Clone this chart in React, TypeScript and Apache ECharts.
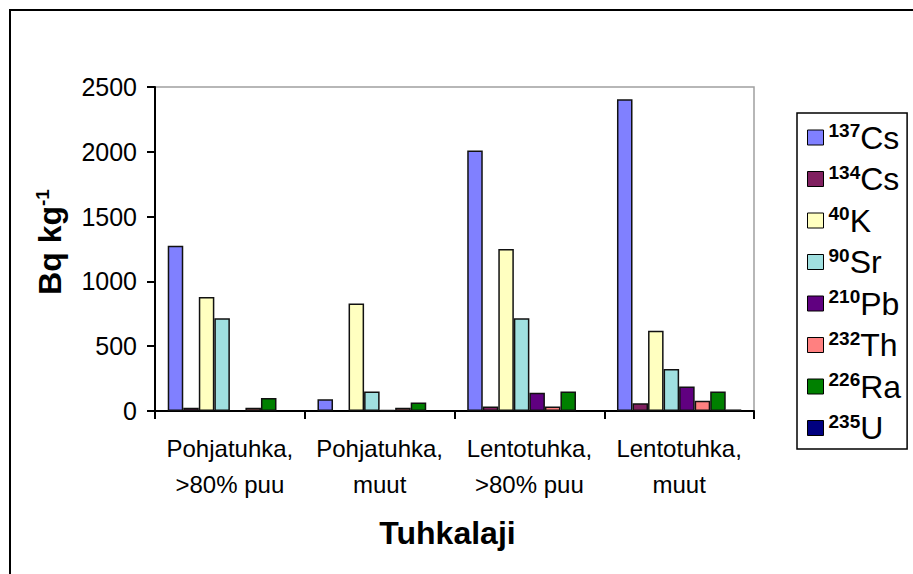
import React, { useEffect, useRef } from "react";
import * as echarts from "echarts";

const categories = ["Pohjatuhka,\n>80% puu", "Pohjatuhka,\nmuut", "Lentotuhka,\n>80% puu", "Lentotuhka,\nmuut"];
const seriesNames = ["137Cs", "134Cs", "40K", "90Sr", "210Pb", "232Th", "226Ra", "235U"];
const cs137 = [1275, 90, 2010, 2405];
const cs134 = [25, null, 35, 60];
const k40 = [880, 830, 1250, 620];
const sr90 = [715, 150, 715, 325];
const pb210 = [null, 8, 140, 190];
const th232 = [25, 25, 35, 80];
const ra226 = [100, 65, 150, 150];
const u235 = [null, null, null, 12];
const yTicks = [0, 500, 1000, 1500, 2000, 2500];
const colors = ["#8080FF", "#802060", "#FFFFC0", "#A0E0E0", "#600080", "#FF8080", "#008000", "#000080"];

const seriesData = [cs137, cs134, k40, sr90, pb210, th232, ra226, u235];

export default function App() {
  const ref = useRef<HTMLDivElement>(null);
  useEffect(() => {
    if (!ref.current) return;
    const chart = echarts.init(ref.current, null, { renderer: "svg" });
    const font = "'Liberation Sans', Arial, sans-serif";
    chart.setOption({
      animation: false,
      backgroundColor: "#fff",
      textStyle: { fontFamily: font, color: "#000" },
      grid: {
        left: 155, top: 87, width: 599, height: 324,
        show: true, borderColor: "#a0a0a0", borderWidth: 1.5, backgroundColor: "transparent",
      },
      legend: {
        orient: "vertical",
        left: 797, top: 113,
        padding: [8, 6, 5, 10],
        itemWidth: 16, itemHeight: 15, itemGap: 9,
        backgroundColor: "#fff",
        borderColor: "#000", borderWidth: 1.5, borderRadius: 0,
        icon: "rect",
        itemStyle: { borderColor: "#000", borderWidth: 1 },
        data: seriesNames,
        formatter: (name: string) => {
          const m = name.match(/^(\d+)(.*)$/);
          return m ? `{s|${m[1]}}{e|${m[2]}}` : name;
        },
        textStyle: {
          fontFamily: font,
          rich: {
            s: { fontSize: 19, fontWeight: "bold", fontFamily: font, color: "#000", lineHeight: 19, verticalAlign: "top" },
            e: { fontSize: 32, fontFamily: font, color: "#000", lineHeight: 33 },
          },
        },
      },
      xAxis: {
        type: "category",
        data: categories,
        axisLine: { lineStyle: { color: "#000", width: 2 } },
        axisTick: { show: true, length: 8, lineStyle: { color: "#000", width: 2 } },
        axisLabel: { interval: 0, fontSize: 24, fontFamily: font, color: "#000", margin: 19, lineHeight: 36 },
        name: "Tuhkalaji",
        nameLocation: "middle",
        nameGap: 106,
        nameTextStyle: { fontSize: 32, fontWeight: "bold", fontFamily: font, color: "#000", padding: [0, 14, 0, 0] },
      },
      yAxis: {
        type: "value",
        min: 0, max: 2500, interval: 500,
        axisLine: { show: true, lineStyle: { color: "#000", width: 2 } },
        axisTick: { show: true, length: 8, lineStyle: { color: "#000", width: 2 } },
        axisLabel: { fontSize: 25, fontFamily: font, color: "#000", margin: 18,
          formatter: (v: number) => (yTicks.includes(v) ? String(v) : "") },
        splitLine: { show: false },
      },
      graphic: [
        {
          type: "rect", silent: true, z: -10,
          shape: { x: 10, y: 10, width: 1200, height: 1200 },
          style: { fill: "none", stroke: "#000", lineWidth: 2 },
        },
        {
          type: "text", x: 50, y: 242, rotation: Math.PI / 2,
          style: {
            text: "{b|Bq kg}{s|-1}",
            align: "center", verticalAlign: "middle",
            rich: {
              b: { fontSize: 32, fontWeight: "bold", fontFamily: font, fill: "#000", lineHeight: 34 } as any,
              s: { fontSize: 19, fontWeight: "bold", fontFamily: font, fill: "#000", lineHeight: 19, verticalAlign: "top" } as any,
            },
          },
        },
      ],
      series: seriesNames.map((name, i) => ({
        name,
        type: "bar",
        data: seriesData[i].map((v) => (v === null ? "-" : v)),
        barGap: "0%",
        barCategoryGap: "17%",
        itemStyle: { color: colors[i], borderColor: "#111", borderWidth: 1.5 },
      })),
    });
    return () => chart.dispose();
  }, []);
  return <div ref={ref} style={{ position: "fixed", left: 0, top: 0, width: 913, height: 574 }} />;
}
